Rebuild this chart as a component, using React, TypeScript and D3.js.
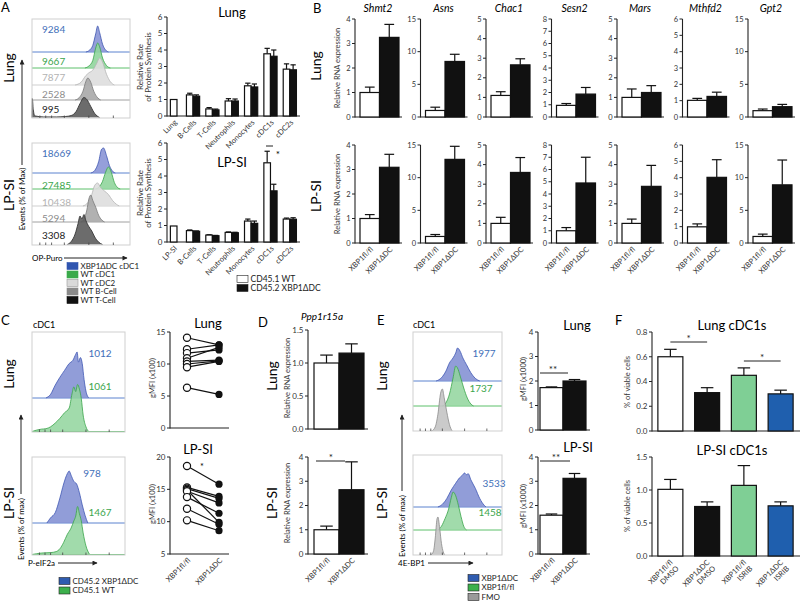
import React from "react";
import * as d3 from "d3";

const FONT = "Lato, 'Open Sans', 'DejaVu Sans', sans-serif";

// ---------------- DATA ----------------
// Panel A – flow histograms (x: 0-100 % of axis, y: % of max)
const aRowNames = ["XBP1ΔDC cDC1", "WT cDC1", "WT cDC2", "WT B-Cell", "WT T-Cell"];
const aCountsLung = ["9284", "9667", "7877", "2528", "995"];
const aCountsLpsi = ["18669", "27485", "10438", "5294", "3308"];
const aHistLung: [number, number][][] = [
  [[55, 0], [59, 8], [62, 25], [65, 70], [67, 100], [69, 75], [72, 30], [75, 8], [78, 0]],
  [[54, 0], [58, 8], [62, 30], [65, 80], [67, 100], [69, 85], [72, 40], [76, 10], [80, 0]],
  [[44, 0], [50, 10], [55, 35], [58, 45], [62, 55], [66, 80], [69, 100], [72, 85], [76, 40], [80, 12], [84, 0]],
  [[44, 0], [48, 10], [52, 40], [55, 85], [57, 100], [60, 80], [63, 40], [67, 10], [70, 0]],
  [[0, 0], [0.3, 95], [1.3, 40], [3, 8], [12, 3], [25, 3], [34, 5], [40, 10], [45, 30], [49, 70], [53, 100], [56, 90], [60, 55], [64, 20], [69, 0]],
];
const aHistLpsi: [number, number][][] = [
  [[60, 0], [64, 10], [68, 45], [71, 95], [73, 100], [76, 70], [79, 30], [82, 8], [85, 0]],
  [[65, 0], [69, 12], [72, 35], [75, 75], [78, 100], [81, 75], [84, 30], [87, 8], [90, 0]],
  [[52, 0], [57, 15], [61, 50], [64, 90], [67, 100], [70, 80], [74, 65], [78, 50], [82, 25], [86, 8], [89, 0]],
  [[50, 0], [53, 10], [56, 45], [58, 85], [60, 100], [62, 80], [65, 55], [68, 25], [71, 8], [74, 0]],
  [[36, 0], [40, 10], [44, 35], [47, 70], [49, 95], [51, 85], [53, 100], [55, 80], [58, 60], [61, 45], [64, 25], [68, 8], [72, 0]],
];

// Panel A – relative rate of protein synthesis
const protCatsLung = ["Lung", "B-Cells", "T-Cells", "Neutrophils", "Monocytes", "cDC1s", "cDC2s"];
const protCatsLpsi = ["LP-SI", "B-Cells", "T-Cells", "Neutrophils", "Monocytes", "cDC1s", "cDC2s"];
const protLungWT = [1.0, 1.28, 0.43, 0.91, 1.83, 3.77, 2.84];
const protLungWTErr = [0, 0.1, 0.08, 0.14, 0.16, 0.33, 0.32];
const protLungKO: (number | null)[] = [null, 1.2, 0.37, 0.91, 1.76, 3.62, 2.8];
const protLungKOErr = [0, 0.08, 0.05, 0.12, 0.18, 0.38, 0.3];
const protLpsiWT = [0.97, 0.69, 0.42, 0.58, 1.27, 4.8, 1.39];
const protLpsiWTErr = [0, 0.04, 0.02, 0.03, 0.12, 0.7, 0.06];
const protLpsiKO: (number | null)[] = [null, 0.65, 0.38, 0.56, 1.13, 3.1, 1.38];
const protLpsiKOErr = [0, 0.02, 0.02, 0.03, 0.14, 0.4, 0.09];
const protTicks = [0, 1, 2, 3, 4, 5, 6];

// Panel B – relative RNA expression
const genes = ["Shmt2", "Asns", "Chac1", "Sesn2", "Mars", "Mthfd2", "Gpt2"];
const geneMax = [4, 15, 5, 8, 5, 6, 15];
const geneStep = [1, 5, 1, 1, 1, 1, 5];
const bLungFl = [1.0, 1.0, 1.1, 0.95, 1.0, 1.02, 0.97];
const bLungFlErr = [0.22, 0.5, 0.19, 0.15, 0.43, 0.12, 0.25];
const bLungDC = [3.25, 8.5, 2.66, 1.87, 1.25, 1.26, 1.58];
const bLungDCErr = [0.53, 1.1, 0.31, 0.54, 0.35, 0.26, 0.35];
const bLpsiFl = [1.0, 1.0, 1.0, 1.0, 1.0, 0.99, 1.0];
const bLpsiFlErr = [0.16, 0.3, 0.31, 0.26, 0.22, 0.18, 0.36];
const bLpsiDC = [3.09, 12.8, 3.6, 4.9, 2.89, 4.02, 8.9];
const bLpsiDCErr = [0.53, 2.0, 0.76, 2.1, 1.07, 1.08, 3.8];
const genotypes = ["XBP1fl/fl", "XBP1ΔDC"];

// Panel C – P-eIF2a
const cCountsLung = ["1012", "1061"];
const cCountsLpsi = ["978", "1467"];
const cHistLung: [number, number][][] = [
  [[15, 0], [20, 8], [25, 28], [30, 45], [35, 60], [40, 75], [44, 82], [47, 95], [48.5, 100], [50, 78], [52, 88], [54, 75], [56, 40], [58, 15], [61, 0]],
  [[0, 0], [5, 3], [10, 5], [15, 6], [20, 10], [25, 18], [30, 28], [35, 40], [40, 50], [43, 80], [45, 95], [47, 85], [49, 100], [51, 90], [53, 70], [55, 35], [58, 10], [61, 0]],
];
const cHistLpsi: [number, number][][] = [
  [[16, 0], [20, 10], [25, 20], [30, 48], [34, 75], [38, 95], [40, 100], [42, 92], [45, 80], [48, 75], [51, 58], [54, 35], [57, 15], [60, 0]],
  [[0, 0], [10, 3], [20, 4], [26, 6], [30, 12], [34, 25], [38, 42], [42, 55], [45, 70], [47, 80], [49, 100], [51, 85], [53, 70], [55, 45], [58, 18], [62, 0]],
];
const cLungFl = [14.1, 12.3, 11.7, 10.9, 10.4, 10.0, 9.5, 6.3];
const cLungDC = [13.0, 13.0, 12.2, 12.6, 10.6, 10.5, 10.4, 5.25];
const cLpsiFl = [18.6, 15.3, 15.1, 14.9, 14.7, 13.8, 12.0, 10.2];
const cLpsiDC = [15.8, 13.9, 13.6, 9.9, 12.9, 11.3, 9.6, 8.6];

// Panel D – Ppp1r15a
const dLung = [1.0, 1.15];
const dLungErr = [0.12, 0.14];
const dLpsi = [1.0, 2.65];
const dLpsiErr = [0.15, 1.15];

// Panel E – 4E-BP1
const eCountsLung = ["1977", "1737"];
const eCountsLpsi = ["3533", "1458"];
const eHistLung: [number, number][][] = [
  [[26, 0], [32, 10], [37, 30], [41, 55], [45, 70], [48, 85], [50, 100], [53, 90], [56, 70], [60, 50], [65, 25], [70, 8], [75, 0]],
  [[33, 0], [37, 8], [41, 30], [45, 70], [48, 100], [50, 95], [53, 75], [57, 45], [61, 20], [65, 5], [68, 0]],
  [[21, 0], [25, 10], [28, 40], [31, 90], [33, 100], [35, 80], [38, 45], [41, 15], [44, 0]],
];
const eHistLpsi: [number, number][][] = [
  [[28, 0], [33, 8], [38, 25], [43, 50], [48, 70], [52, 85], [55, 92], [58, 100], [60, 95], [62, 98], [65, 80], [70, 55], [75, 25], [80, 5], [82, 0]],
  [[28, 0], [32, 10], [36, 30], [40, 55], [43, 85], [45, 100], [48, 90], [51, 65], [54, 35], [57, 10], [60, 0]],
  [[20, 0], [23, 10], [25, 45], [27, 95], [28, 100], [30, 70], [32, 30], [34, 8], [36, 0]],
];
const eLung = [1.73, 2.0];
const eLungErr = [0.03, 0.06];
const eLpsi = [1.6, 3.12];
const eLpsiErr = [0.05, 0.2];

// Panel F – % of viable cells
const fGroups = [["XBP1fl/fl", "DMSO"], ["XBP1ΔDC", "DMSO"], ["XBP1fl/fl", "ISRIB"], ["XBP1ΔDC", "ISRIB"]];
const fLung = [0.6, 0.31, 0.45, 0.3];
const fLungErr = [0.06, 0.04, 0.06, 0.03];
const fLpsi = [1.01, 0.75, 1.07, 0.76];
const fLpsiErr = [0.15, 0.07, 0.3, 0.06];

// ---------------- STYLES ----------------
const BLUE_TXT = "#3f6fb9";
const GREEN_TXT = "#3ba54c";
const aStyles = [
  { fill: "#8a95d6", stroke: "#3d55b0", text: BLUE_TXT, line: "#5a82cf", key: "#2f55b0" },
  { fill: "#90d59c", stroke: "#3aa54a", text: GREEN_TXT, line: "#5cc06a", key: "#3aaa4a" },
  { fill: "#dedede", stroke: "#b5b5b5", text: "#b3b3b3", line: "#cfcfcf", key: "#dadada" },
  { fill: "#a9a9a9", stroke: "#7a7a7a", text: "#8c8c8c", line: "#a0a0a0", key: "#8a8a8a" },
  { fill: "#5c5c5c", stroke: "#2a2a2a", text: "#1a1a1a", line: "#333", key: "#111" },
];
const blueH = { fill: "#8592d4", stroke: "#4058b4", line: "#5a82cf" };
const greenH = { fill: "#90d59c", stroke: "#3aa54a", line: "#5cc06a" };
const grayH = { fill: "#c4c4c4", stroke: "#8a8a8a", line: "#999" };
const fFills = ["#ffffff", "#111111", "#7fcf95", "#1f5fae"];

// ---------------- HELPERS ----------------
type Pt = [number, number];

const VText = ({ x, y, size = 8, children, ...rest }: any) => (
  <text transform={`translate(${x},${y}) rotate(-90)`} textAnchor="middle" fontSize={size} {...rest}>{children}</text>
);

const XLab = ({ x, y, lines, size = 7.5 }: { x: number; y: number; lines: string[]; size?: number }) => (
  <text transform={`translate(${x},${y}) rotate(-45)`} textAnchor="end" fontSize={size} fill="#333">
    {lines.map((l, i) => (
      <tspan key={i} x={0} dy={i === 0 ? "0.35em" : "1.15em"}>{l}</tspan>
    ))}
  </text>
);

function YAxis({ x, y, ticks, fmt = (t: number) => String(t), size = 8 }: any) {
  const [r0, r1] = y.range();
  return (
    <g>
      <line x1={x} x2={x} y1={r0 + 0.5} y2={r1} stroke="#222" strokeWidth={1.1} />
      {ticks.map((t: number) => (
        <g key={t}>
          <line x1={x - 3} x2={x} y1={y(t)} y2={y(t)} stroke="#222" strokeWidth={1} />
          <text x={x - 4.5} y={y(t)} dy="0.35em" textAnchor="end" fontSize={size} fill="#333">{fmt(t)}</text>
        </g>
      ))}
    </g>
  );
}

const XLine = ({ x0, x1, y }: any) => <line x1={x0} x2={x1} y1={y} y2={y} stroke="#222" strokeWidth={1.1} />;

function Bar({ x, w, y, v, e, fill, cap = 0.5 }: any) {
  const top = y(v);
  const base = y.range()[0];
  const et = y(v + e);
  const cx = x + w / 2;
  return (
    <g>
      {e > 0 && (
        <g stroke="#111" strokeWidth={1.2}>
          <line x1={cx} x2={cx} y1={top} y2={et} />
          <line x1={cx - (w * cap) / 2} x2={cx + (w * cap) / 2} y1={et} y2={et} />
        </g>
      )}
      <rect x={x} y={top} width={w} height={base - top} fill={fill} stroke="#111" strokeWidth={1.2} />
    </g>
  );
}

function Hist({ x0, x1, base, h, pts, st, opacity = 0.9 }: any) {
  const xs = d3.scaleLinear().domain([0, 100]).range([x0, x1]);
  const ys = d3.scaleLinear().domain([0, 100]).range([base, base - h]);
  const area = d3.area<Pt>().x((d) => xs(d[0])).y0(base).y1((d) => ys(d[1])).curve(d3.curveMonotoneX);
  const line = d3.line<Pt>().x((d) => xs(d[0])).y((d) => ys(d[1])).curve(d3.curveMonotoneX);
  return (
    <g>
      <path d={area(pts) || ""} fill={st.fill} fillOpacity={opacity} />
      <path d={line(pts) || ""} fill="none" stroke={st.stroke} strokeWidth={0.8} />
    </g>
  );
}

function HistBox({ x0, x1, top, bottom }: any) {
  const xs = d3.scaleLinear().domain([0, 100]).range([x0, x1]);
  const ticks = [8, 14, 20, 33, 58, 83];
  return (
    <g>
      <rect x={x0} y={top} width={x1 - x0} height={bottom - top} fill="none" stroke="#cfcfcf" strokeWidth={1} />
      {ticks.map((t) => (
        <line key={t} x1={xs(t)} x2={xs(t)} y1={bottom} y2={bottom - 2.5} stroke="#444" strokeWidth={0.8} />
      ))}
    </g>
  );
}

function Legend({ x, ys, items, size = 8 }: any) {
  return (
    <g>
      {items.map((it: any, i: number) => (
        <g key={i}>
          <rect x={x} y={ys[i] - 3.5} width={11} height={7} fill={it.color} stroke={it.stroke || "#222"} strokeWidth={0.6} />
          <text x={x + 13.5} y={ys[i]} dy="0.35em" fontSize={size} fill="#222">{it.label}</text>
        </g>
      ))}
    </g>
  );
}

function Sig({ x0, x1, y, label, tx }: any) {
  return (
    <g>
      <line x1={x0} x2={x1} y1={y} y2={y} stroke="#222" strokeWidth={1} />
      <text x={tx ?? (x0 + x1) / 2} y={y - 0.5} textAnchor="middle" fontSize={10} fill="#222">{label}</text>
    </g>
  );
}

// ---------------- PANELS ----------------
function PanelAHist() {
  const boxes = [
    { top: 19, bottom: 118, bases: [52, 68, 85, 100, 117.5], peaks: [26, 25, 27, 22, 20], labY: [33, 65, 81, 98, 113], data: aHistLung, counts: aCountsLung },
    { top: 143, bottom: 245, bases: [173, 189, 206, 222, 244.5], peaks: [25, 22, 23, 27, 30], labY: [157, 189, 206, 222, 239], data: aHistLpsi, counts: aCountsLpsi },
  ];
  return (
    <g>
      <text x={1} y={12} fontSize={13}>A</text>
      {boxes.map((b, bi) => (
        <g key={bi}>
          {b.data.map((pts, i) => (
            <g key={i}>
              {i < 4 && <line x1={32} x2={130} y1={b.bases[i]} y2={b.bases[i]} stroke={aStyles[i].line} strokeWidth={1} />}
              <Hist x0={32} x1={130} base={b.bases[i]} h={b.peaks[i]} pts={pts} st={aStyles[i]} />
            </g>
          ))}
          {b.counts.map((c, i) => (
            <text key={c} x={42} y={b.labY[i]} fontSize={10} fill={aStyles[i].text}>{c}</text>
          ))}
          <HistBox x0={32} x1={130} top={b.top} bottom={b.bottom} />
        </g>
      ))}
      <VText x={14} y={68} size={14}>Lung</VText>
      <VText x={14} y={195} size={14}>LP-SI</VText>
      <VText x={25} y={199} size={8}>Events (% of Max)</VText>
      <line x1={22} x2={22} y1={165} y2={60} stroke="#222" markerEnd="url(#arr)" />
      <text x={32} y={261} fontSize={8}>OP-Puro</text>
      <line x1={64} x2={127} y1={258} y2={258} stroke="#222" markerEnd="url(#arr)" />
      <Legend x={67} ys={[266, 274.5, 283, 291.5, 300]} items={aRowNames.map((n, i) => ({ label: n, color: aStyles[i].key, stroke: i === 2 ? "#999" : aStyles[i].key }))} size={8} />
    </g>
  );
}

function ProtChart({ cats, wt, wtErr, ko, koErr, y0, y1, title, titleY, labCY }: any) {
  const x = d3.scaleBand<string>().domain(cats).range([164, 299.5]);
  const y = d3.scaleLinear().domain([0, 6]).range([y0, y1]);
  const bw = 6.6;
  return (
    <g>
      <YAxis x={167} y={y} ticks={protTicks} size={8} />
      <XLine x0={167} x1={300} y={y0} />
      {cats.map((c: string, i: number) => {
        const cx = (x(c) as number) + x.bandwidth() / 2;
        if (ko[i] == null) return <Bar key={c} x={cx - bw / 2} w={bw} y={y} v={wt[i]} e={wtErr[i]} fill="#fff" cap={0.8} />;
        return (
          <g key={c}>
            <Bar x={cx - bw} w={bw} y={y} v={wt[i]} e={wtErr[i]} fill="#fff" cap={0.8} />
            <Bar x={cx} w={bw} y={y} v={ko[i]} e={koErr[i]} fill="#111" cap={0.8} />
          </g>
        );
      })}
      {cats.map((c: string) => (
        <XLab key={c} x={(x(c) as number) + x.bandwidth() / 2 + 2} y={y0 + 5} lines={[c]} size={7.5} />
      ))}
      <text x={232} y={titleY} textAnchor="middle" fontSize={13}>{title}</text>
      <VText x={143} y={labCY} size={8} fill="#333">Relative Rate</VText>
      <VText x={151} y={labCY} size={8} fill="#333">of Protein Synthesis</VText>
    </g>
  );
}

function PanelABars() {
  return (
    <g>
      <ProtChart cats={protCatsLung} wt={protLungWT} wtErr={protLungWTErr} ko={protLungKO} koErr={protLungKOErr} y0={116} y1={17} title="Lung" titleY={17} labCY={67} />
      <ProtChart cats={protCatsLpsi} wt={protLpsiWT} wtErr={protLpsiWTErr} ko={protLpsiKO} koErr={protLpsiKOErr} y0={242} y1={143} title="LP-SI" titleY={167} labCY={193} />
      <line x1={266} x2={273} y1={146} y2={146} stroke="#222" />
      <text x={278} y={158} fontSize={10} textAnchor="middle">*</text>
      <Legend x={237} ys={[279, 288]} items={[{ label: "CD45.1 WT", color: "#fff" }, { label: "CD45.2 XBP1ΔDC", color: "#111" }]} size={8.5} />
    </g>
  );
}

function GeneChart({ i, yB, yT, fl, flE, dc, dcE, showX }: any) {
  const x0 = 355 + i * 65.5;
  const y = d3.scaleLinear().domain([0, geneMax[i]]).range([yB, yT]);
  const x = d3.scaleBand<string>().domain(genotypes).range([x0 + 5, x0 + 44]);
  const ticks = d3.range(0, geneMax[i] + geneStep[i] / 2, geneStep[i]);
  return (
    <g>
      <YAxis x={x0} y={y} ticks={ticks} size={7.5} />
      <XLine x0={x0} x1={x0 + 47} y={yB} />
      <Bar x={x(genotypes[0])} w={x.bandwidth()} y={y} v={fl} e={flE} fill="#fff" />
      <Bar x={x(genotypes[1])} w={x.bandwidth()} y={y} v={dc} e={dcE} fill="#111" />
      {showX && genotypes.map((g) => (
        <XLab key={g} x={(x(g) as number) + x.bandwidth() / 2 + 2} y={yB + 5} lines={[g]} size={7.5} />
      ))}
    </g>
  );
}

function PanelB() {
  return (
    <g>
      <text x={313} y={13} fontSize={13}>B</text>
      {genes.map((g, i) => (
        <g key={g}>
          <text x={355 + i * 65.5 + 23} y={12} textAnchor="middle" fontSize={10.5} fontStyle="italic">{g}</text>
          <GeneChart i={i} yB={117} yT={19} fl={bLungFl[i]} flE={bLungFlErr[i]} dc={bLungDC[i]} dcE={bLungDCErr[i]} showX={false} />
          <GeneChart i={i} yB={243} yT={145} fl={bLpsiFl[i]} flE={bLpsiFlErr[i]} dc={bLpsiDC[i]} dcE={bLpsiDCErr[i]} showX={true} />
        </g>
      ))}
      <VText x={321} y={66} size={14}>Lung</VText>
      <VText x={321} y={196} size={14}>LP-SI</VText>
      <VText x={340} y={68} size={7.5} fill="#333">Relative RNA expression</VText>
      <VText x={340} y={194} size={7.5} fill="#333">Relative RNA expression</VText>
    </g>
  );
}

function PairedPlot({ y0, y1, dom, ticks, fl, dc, title, tx, ty, labCY }: any) {
  const y = d3.scaleLinear().domain(dom).range([y0, y1]);
  const x = d3.scalePoint<string>().domain(genotypes).range([187, 219]);
  return (
    <g>
      <YAxis x={170} y={y} ticks={ticks} size={8} />
      <XLine x0={170} x1={229} y={y0} />
      {fl.map((v: number, i: number) => (
        <line key={"l" + i} x1={x(genotypes[0])} x2={x(genotypes[1])} y1={y(v)} y2={y(dc[i])} stroke="#111" strokeWidth={1.2} />
      ))}
      {fl.map((v: number, i: number) => (
        <circle key={"o" + i} cx={x(genotypes[0])} cy={y(v)} r={3.6} fill="#fff" stroke="#111" strokeWidth={1.2} />
      ))}
      {dc.map((v: number, i: number) => (
        <circle key={"d" + i} cx={x(genotypes[1])} cy={y(v)} r={3.6} fill="#111" />
      ))}
      <text x={tx} y={ty} textAnchor="middle" fontSize={13}>{title}</text>
      <VText x={155} y={labCY} size={7.5} fill="#333">gMFI (x100)</VText>
    </g>
  );
}

function PanelC() {
  return (
    <g>
      <text x={1} y={325} fontSize={13}>C</text>
      <text x={33} y={328} fontSize={9}>cDC1</text>
      {/* Lung */}
      <line x1={32} x2={125} y1={398} y2={398} stroke={blueH.line} />
      <Hist x0={32} x1={125} base={398} h={46} pts={cHistLung[0]} st={blueH} />
      <Hist x0={32} x1={125} base={431.5} h={47} pts={cHistLung[1]} st={greenH} opacity={0.85} />
      <line x1={32} x2={125} y1={431.5} y2={431.5} stroke={greenH.line} />
      <HistBox x0={32} x1={125} top={332} bottom={432} />
      <text x={100} y={357} textAnchor="middle" fontSize={10} fill={BLUE_TXT}>{cCountsLung[0]}</text>
      <text x={100} y={390} textAnchor="middle" fontSize={10} fill={GREEN_TXT}>{cCountsLung[1]}</text>
      {/* LP-SI */}
      <line x1={32} x2={125} y1={523} y2={523} stroke={blueH.line} />
      <Hist x0={32} x1={125} base={523} h={52} pts={cHistLpsi[0]} st={blueH} />
      <Hist x0={32} x1={125} base={554.5} h={48} pts={cHistLpsi[1]} st={greenH} opacity={0.85} />
      <line x1={32} x2={125} y1={554.5} y2={554.5} stroke={greenH.line} />
      <HistBox x0={32} x1={125} top={457} bottom={555} />
      <text x={92} y={477} textAnchor="middle" fontSize={10} fill={BLUE_TXT}>{cCountsLpsi[0]}</text>
      <text x={100} y={516} textAnchor="middle" fontSize={10} fill={GREEN_TXT}>{cCountsLpsi[1]}</text>

      <VText x={14} y={374} size={14}>Lung</VText>
      <VText x={14} y={503} size={14}>LP-SI</VText>
      <VText x={24} y={529} size={8}>Events (% of max)</VText>
      <line x1={21} x2={21} y1={494} y2={415} stroke="#222" markerEnd="url(#arr)" />
      <text x={28} y={566} fontSize={8}>P-eIF2a</text>
      <line x1={58} x2={97} y1={563} y2={563} stroke="#222" markerEnd="url(#arr)" />
      <Legend x={59} ys={[581, 590.5]} items={[{ label: "CD45.2 XBP1ΔDC", color: "#2f5cb0" }, { label: "CD45.1 WT", color: "#3cb04c" }]} size={8} />

      <PairedPlot y0={428} y1={332} dom={[0, 15]} ticks={[0, 5, 10, 15]} fl={cLungFl} dc={cLungDC} title="Lung" tx={208} ty={328} labCY={378} />
      <PairedPlot y0={554} y1={457} dom={[5, 20]} ticks={[5, 10, 15, 20]} fl={cLpsiFl} dc={cLpsiDC} title="LP-SI" tx={198} ty={454} labCY={504} />
      <text x={202} y={470} textAnchor="middle" fontSize={9}>*</text>
      {genotypes.map((g, i) => (
        <XLab key={g} x={189 + i * 32} y={559} lines={[g]} size={7.5} />
      ))}
    </g>
  );
}

function TwoBar({ axisX, band, y0, y1, dom, ticks, fmt, vals, errs, xEnd }: any) {
  const y = d3.scaleLinear().domain(dom).range([y0, y1]);
  const x = d3.scaleBand<string>().domain(genotypes).range(band);
  return (
    <g>
      <YAxis x={axisX} y={y} ticks={ticks} fmt={fmt} size={8} />
      <XLine x0={axisX} x1={xEnd} y={y0} />
      <Bar x={x(genotypes[0])} w={x.bandwidth()} y={y} v={vals[0]} e={errs[0]} fill="#fff" />
      <Bar x={x(genotypes[1])} w={x.bandwidth()} y={y} v={vals[1]} e={errs[1]} fill="#111" />
    </g>
  );
}

function PanelD() {
  const x = d3.scaleBand<string>().domain(genotypes).range([314, 364]);
  return (
    <g>
      <text x={258} y={327} fontSize={13}>D</text>
      <text x={322} y={320} textAnchor="middle" fontSize={10} fontStyle="italic">Ppp1r15a</text>
      <TwoBar axisX={308} band={[314, 364]} y0={429} y1={330} dom={[0, 1.5]} ticks={[0, 0.5, 1, 1.5]} fmt={(t: number) => t.toFixed(1)} vals={dLung} errs={dLungErr} xEnd={368} />
      <TwoBar axisX={308} band={[314, 364]} y0={554} y1={457} dom={[0, 4]} ticks={[0, 1, 2, 3, 4]} vals={dLpsi} errs={dLpsiErr} xEnd={368} />
      <Sig x0={316} x1={345} y={461} label="*" tx={331} />
      <VText x={277} y={376} size={14}>Lung</VText>
      <VText x={277} y={503} size={14}>LP-SI</VText>
      <VText x={290} y={378} size={7.5} fill="#333">Relative RNA expression</VText>
      <VText x={290} y={503} size={7.5} fill="#333">Relative RNA expression</VText>
      {genotypes.map((g) => (
        <XLab key={g} x={(x(g) as number) + x.bandwidth() / 2 + 2} y={559} lines={[g]} size={7.5} />
      ))}
    </g>
  );
}

function PanelE() {
  const x = d3.scaleBand<string>().domain(genotypes).range([540, 586]);
  return (
    <g>
      <text x={377} y={325} fontSize={13}>E</text>
      <text x={413} y={328} fontSize={9}>cDC1</text>
      {/* Lung */}
      <line x1={413} x2={502} y1={381} y2={381} stroke={blueH.line} />
      <Hist x0={413} x1={502} base={381} h={33} pts={eHistLung[0]} st={blueH} />
      <line x1={413} x2={502} y1={406} y2={406} stroke={greenH.line} />
      <Hist x0={413} x1={502} base={406} h={40} pts={eHistLung[1]} st={greenH} opacity={0.85} />
      <Hist x0={413} x1={502} base={431} h={42} pts={eHistLung[2]} st={grayH} />
      <HistBox x0={413} x1={502} top={332} bottom={431} />
      <text x={484} y={357} textAnchor="middle" fontSize={10} fill={BLUE_TXT}>{eCountsLung[0]}</text>
      <text x={481} y={392} textAnchor="middle" fontSize={10} fill={GREEN_TXT}>{eCountsLung[1]}</text>
      {/* LP-SI */}
      <line x1={413} x2={502} y1={507} y2={507} stroke={blueH.line} />
      <Hist x0={413} x1={502} base={507} h={34} pts={eHistLpsi[0]} st={blueH} />
      <line x1={413} x2={502} y1={530} y2={530} stroke={greenH.line} />
      <Hist x0={413} x1={502} base={530} h={38} pts={eHistLpsi[1]} st={greenH} opacity={0.85} />
      <Hist x0={413} x1={502} base={555} h={38} pts={eHistLpsi[2]} st={grayH} />
      <HistBox x0={413} x1={502} top={455} bottom={555} />
      <text x={494} y={487} textAnchor="middle" fontSize={10} fill={BLUE_TXT}>{eCountsLpsi[0]}</text>
      <text x={490} y={516} textAnchor="middle" fontSize={10} fill={GREEN_TXT}>{eCountsLpsi[1]}</text>

      <VText x={387} y={376} size={14}>Lung</VText>
      <VText x={387} y={503} size={14}>LP-SI</VText>
      <VText x={405} y={526} size={8}>Events (% of max)</VText>
      <line x1={402} x2={402} y1={491} y2={415} stroke="#222" markerEnd="url(#arr)" />
      <text x={398} y={566} fontSize={8}>4E-BP1</text>
      <line x1={428} x2={473} y1={563} y2={563} stroke="#222" markerEnd="url(#arr)" />
      <Legend x={468} ys={[578, 587.5, 597]} items={[{ label: "XBP1ΔDC", color: "#2f5cb0" }, { label: "XBP1fl/fl", color: "#3cb04c" }, { label: "FMO", color: "#9a9a9a" }]} size={8} />

      <TwoBar axisX={538} band={[540, 586]} y0={430} y1={332} dom={[0, 4]} ticks={[0, 1, 2, 3, 4]} vals={eLung} errs={eLungErr} xEnd={590} />
      <TwoBar axisX={538} band={[540, 586]} y0={554} y1={457} dom={[0, 4]} ticks={[0, 1, 2, 3, 4]} vals={eLpsi} errs={eLpsiErr} xEnd={590} />
      <Sig x0={540} x1={568} y={373} label="**" tx={553} />
      <Sig x0={540} x1={570} y={461} label="**" tx={556} />
      <text x={577} y={330} textAnchor="middle" fontSize={13}>Lung</text>
      <text x={578} y={452} textAnchor="middle" fontSize={13}>LP-SI</text>
      <VText x={526} y={379} size={7.5} fill="#333">gMFI (x1000)</VText>
      <VText x={526} y={506} size={7.5} fill="#333">gMFI (x1000)</VText>
      {genotypes.map((g) => (
        <XLab key={g} x={(x(g) as number) + x.bandwidth() / 2 + 2} y={559} lines={[g]} size={7.5} />
      ))}
    </g>
  );
}

function PanelF() {
  const ids = fGroups.map((g) => g.join(" "));
  const x = d3.scaleBand<string>().domain(ids).range([652, 799]).paddingInner(0.32).paddingOuter(0.16);
  const yL = d3.scaleLinear().domain([0, 0.8]).range([431, 332]);
  const yP = d3.scaleLinear().domain([0, 1.5]).range([556, 457]);
  const cx = (i: number) => (x(ids[i]) as number) + x.bandwidth() / 2;
  return (
    <g>
      <text x={615} y={325} fontSize={13}>F</text>
      <text x={732} y={330} textAnchor="middle" fontSize={13}>Lung cDC1s</text>
      <YAxis x={652} y={yL} ticks={[0, 0.2, 0.4, 0.6, 0.8]} fmt={(t: number) => t.toFixed(1)} size={8} />
      <XLine x0={652} x1={800} y={431} />
      {ids.map((id, i) => (
        <Bar key={id} x={x(id)} w={x.bandwidth()} y={yL} v={fLung[i]} e={fLungErr[i]} fill={fFills[i]} />
      ))}
      <Sig x0={cx(0)} x1={cx(1)} y={342} label="*" />
      <Sig x0={cx(2)} x1={cx(3)} y={361} label="*" />
      <text x={732} y={455} textAnchor="middle" fontSize={13}>LP-SI cDC1s</text>
      <YAxis x={652} y={yP} ticks={[0, 0.5, 1, 1.5]} fmt={(t: number) => t.toFixed(1)} size={8} />
      <XLine x0={652} x1={800} y={556} />
      {ids.map((id, i) => (
        <Bar key={id} x={x(id)} w={x.bandwidth()} y={yP} v={fLpsi[i]} e={fLpsiErr[i]} fill={fFills[i]} />
      ))}
      <VText x={630} y={382} size={7.5} fill="#333">% of viable cells</VText>
      <VText x={630} y={506} size={7.5} fill="#333">% of viable cells</VText>
      {fGroups.map((g, i) => (
        <XLab key={i} x={cx(i) + 1} y={561} lines={g} size={7.5} />
      ))}
    </g>
  );
}

export default function App() {
  return (
    <svg width={800} height={603} style={{ position: "absolute", left: 0, top: 0, background: "#fff" }} fontFamily={FONT}>
      <defs>
        <marker id="arr" viewBox="0 0 10 10" refX="9" refY="5" markerWidth="8" markerHeight="5" orient="auto" markerUnits="userSpaceOnUse">
          <path d="M0,0 L10,5 L0,10 z" fill="#222" />
        </marker>
      </defs>
      <rect width={800} height={603} fill="#fff" />
      <PanelAHist />
      <PanelABars />
      <PanelB />
      <PanelC />
      <PanelD />
      <PanelE />
      <PanelF />
    </svg>
  );
}
